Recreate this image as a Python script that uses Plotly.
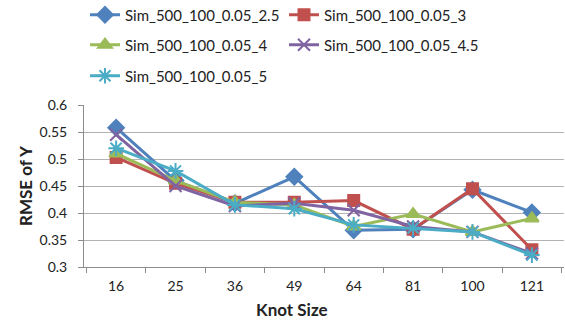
import plotly.graph_objects as go

knots = ["16", "25", "36", "49", "64", "81", "100", "121"]
names = ["Sim_500_100_0.05_2.5", "Sim_500_100_0.05_3", "Sim_500_100_0.05_4",
         "Sim_500_100_0.05_4.5", "Sim_500_100_0.05_5"]
s25 = [0.558, 0.460, 0.418, 0.467, 0.368, 0.370, 0.443, 0.401]
s3 = [0.503, 0.455, 0.420, 0.420, 0.423, 0.370, 0.445, 0.332]
s4 = [0.510, 0.460, 0.420, 0.415, 0.375, 0.398, 0.365, 0.390]
s45 = [0.545, 0.450, 0.413, 0.418, 0.405, 0.375, 0.365, 0.325]
s5 = [0.520, 0.478, 0.415, 0.408, 0.378, 0.372, 0.365, 0.322]
series = [s25, s3, s4, s45, s5]
colors = ["#4F81BD", "#C0504D", "#9BBB59", "#8064A2", "#4BACC6"]
symbols = ["diamond", "square", "triangle-up", "x-thin-open", "asterisk-open"]
sizes = [12, 11, 12, 12, 13]
legend_ids = ["legend", "legend", "legend2", "legend2", "legend3"]

fig = go.Figure()
for n, v, c, s, sz, lg in zip(names, series, colors, symbols, sizes, legend_ids):
    fig.add_trace(go.Scatter(
        x=knots, y=v, name=n, mode="lines+markers", legend=lg,
        line=dict(color=c, width=3),
        marker=dict(symbol=s, size=sz, color=c, line=dict(color=c, width=2)),
    ))

font = "Lato, Carlito, Calibri, sans-serif"
leg_common = dict(orientation="h", xref="container", yref="container",
                  x=85 / 565, xanchor="left", yanchor="middle",
                  entrywidth=154, font=dict(size=15, family=font, color="#222"),
                  bgcolor="rgba(0,0,0,0)")
fig.update_layout(
    width=565, height=320,
    margin=dict(l=84, r=1, t=105, b=53),
    paper_bgcolor="white", plot_bgcolor="white",
    font=dict(family=font, size=14, color="#222"),
    showlegend=True,
    legend=dict(leg_common, y=1 - 15 / 320),
    legend2=dict(leg_common, y=1 - 45 / 320),
    legend3=dict(leg_common, y=1 - 76 / 320),
    xaxis=dict(type="category", showgrid=False, showline=True, linecolor="#8c8c8c",
               ticks="outside", tickson="boundaries", ticklen=5, tickcolor="#8c8c8c",
               ticklabelstandoff=6, tickfont=dict(size=14)),
    yaxis=dict(range=[0.3, 0.6], dtick=0.05, showgrid=True, gridcolor="#b3b3b3",
               showline=True, linecolor="#8c8c8c", ticks="outside", ticklen=5,
               tickcolor="#8c8c8c", zeroline=False, ticklabelstandoff=8,
               tickfont=dict(size=14)),
)
# Axis titles placed like the original (chart-area centred)
fig.add_annotation(text="<b>Knot Size</b>", xref="paper", yref="paper",
                   x=(292 - 84) / 480, y=-(309 - 267) / 162, xanchor="center",
                   yanchor="middle", showarrow=False, font=dict(size=17, family=font, color="#222"))
fig.add_annotation(text="<b>RMSE of Y</b>", xref="paper", yref="paper",
                   x=-(84 - 25) / 480, y=0.5, xanchor="center", yanchor="middle",
                   textangle=-90, showarrow=False, font=dict(size=17, family=font, color="#222"))
fig.write_html("out.html")
